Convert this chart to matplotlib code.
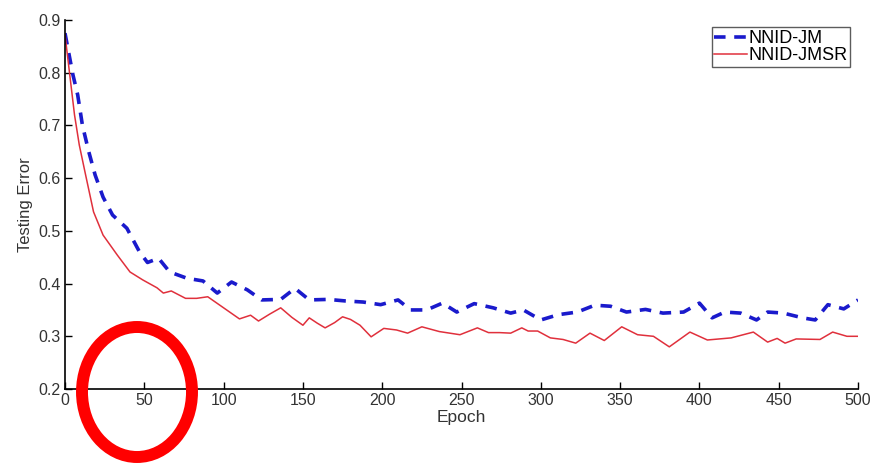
import numpy as np
import matplotlib
matplotlib.use('Agg')
import matplotlib.pyplot as plt
from matplotlib.patches import Ellipse

# values
epoch_jm = [0, 5, 8, 11, 15, 19, 24, 30, 39, 47, 52, 59, 66, 77, 87, 96, 105, 115,
            124, 136, 145, 154, 166, 177, 188, 199, 210, 218, 228, 238, 247, 258,
            270, 281, 289, 300, 311, 323, 334, 344, 354, 366, 377, 390, 400, 408,
            416, 426, 436, 443, 453, 465, 473, 481, 491, 500]
err_jm = [0.875, 0.796, 0.758, 0.70, 0.65, 0.606, 0.564, 0.53, 0.505, 0.46, 0.44,
          0.448, 0.422, 0.41, 0.405, 0.382, 0.403, 0.388, 0.369, 0.37, 0.391, 0.369,
          0.37, 0.367, 0.365, 0.36, 0.369, 0.35, 0.35, 0.363, 0.346, 0.362, 0.354,
          0.344, 0.35, 0.331, 0.341, 0.346, 0.359, 0.357, 0.346, 0.351, 0.344, 0.346,
          0.363, 0.335, 0.346, 0.344, 0.331, 0.346, 0.344, 0.335, 0.331, 0.36, 0.352,
          0.369]

epoch_jmsr = [0, 3, 6, 9, 13, 18, 24, 33, 41, 49, 58, 62, 67, 76, 83, 90, 100, 110,
              117, 122, 129, 136, 143, 150, 154, 159, 164, 170, 175, 180, 186, 193,
              201, 209, 216, 225, 236, 249, 260, 267, 274, 281, 288, 292, 298, 306,
              314, 322, 331, 340, 351, 361, 371, 381, 394, 405, 420, 434, 443, 449,
              454, 461, 476, 484, 493, 500]
err_jmsr = [0.872, 0.796, 0.72, 0.663, 0.606, 0.536, 0.492, 0.454, 0.422, 0.407,
            0.392, 0.382, 0.386, 0.372, 0.372, 0.375, 0.354, 0.333, 0.34, 0.329,
            0.342, 0.354, 0.336, 0.321, 0.335, 0.325, 0.316, 0.326, 0.337, 0.332,
            0.321, 0.299, 0.315, 0.312, 0.306, 0.318, 0.309, 0.303, 0.316, 0.307,
            0.307, 0.306, 0.316, 0.31, 0.31, 0.297, 0.294, 0.287, 0.306, 0.292,
            0.318, 0.303, 0.30, 0.28, 0.308, 0.293, 0.297, 0.308, 0.289, 0.296,
            0.287, 0.295, 0.294, 0.308, 0.30, 0.30]

x_ticks = np.arange(0, 501, 50)
y_ticks = np.arange(0.2, 0.91, 0.1)

plt.rcParams['font.family'] = ['Liberation Sans', 'DejaVu Sans']

fig = plt.figure(figsize=(8.76, 4.65), dpi=100)
ax = fig.add_axes([0.0742, 0.1634, 0.9053, 0.7936])

ax.plot(epoch_jm, err_jm, color='#1a1acc', linestyle=(0, (3.2, 2.4)),
        linewidth=2.6, label='NNID-JM')
ax.plot(epoch_jmsr, err_jmsr, color='#e0303c', linewidth=1.1, label='NNID-JMSR')

ax.set_xlim(0, 500)
ax.set_ylim(0.2, 0.9)
ax.set_xticks(x_ticks)
ax.set_yticks(y_ticks)
ax.set_yticklabels(['%.1f' % v for v in y_ticks])
ax.tick_params(direction='in', length=5, width=1, labelsize=11.5,
               labelcolor='#333333', pad=3)
ax.spines['top'].set_visible(False)
ax.spines['right'].set_visible(False)
ax.spines['left'].set_linewidth(1.2)
ax.spines['bottom'].set_linewidth(1.2)

ax.set_xlabel('Epoch', fontsize=12.5, color='#333333', labelpad=1)
ax.set_ylabel('Testing Error', fontsize=12, color='#333333', labelpad=4)

leg = ax.legend(loc='upper right', bbox_to_anchor=(0.995, 0.99), fontsize=13,
                handlelength=1.8, handletextpad=0.1, borderpad=0.15,
                labelspacing=0.0, frameon=True, fancybox=False,
                borderaxespad=0.2)
leg.get_frame().set_edgecolor('#333333')
leg.get_frame().set_linewidth(1.0)

# red circle drawn over the picture
ring = Ellipse((137 / 876, 73 / 465), 110 / 876, 130 / 465,
               transform=fig.transFigure, fill=False, edgecolor='#ff0000',
               linewidth=8.6, clip_on=False)
fig.add_artist(ring)

fig.savefig('out.png', dpi=100)
